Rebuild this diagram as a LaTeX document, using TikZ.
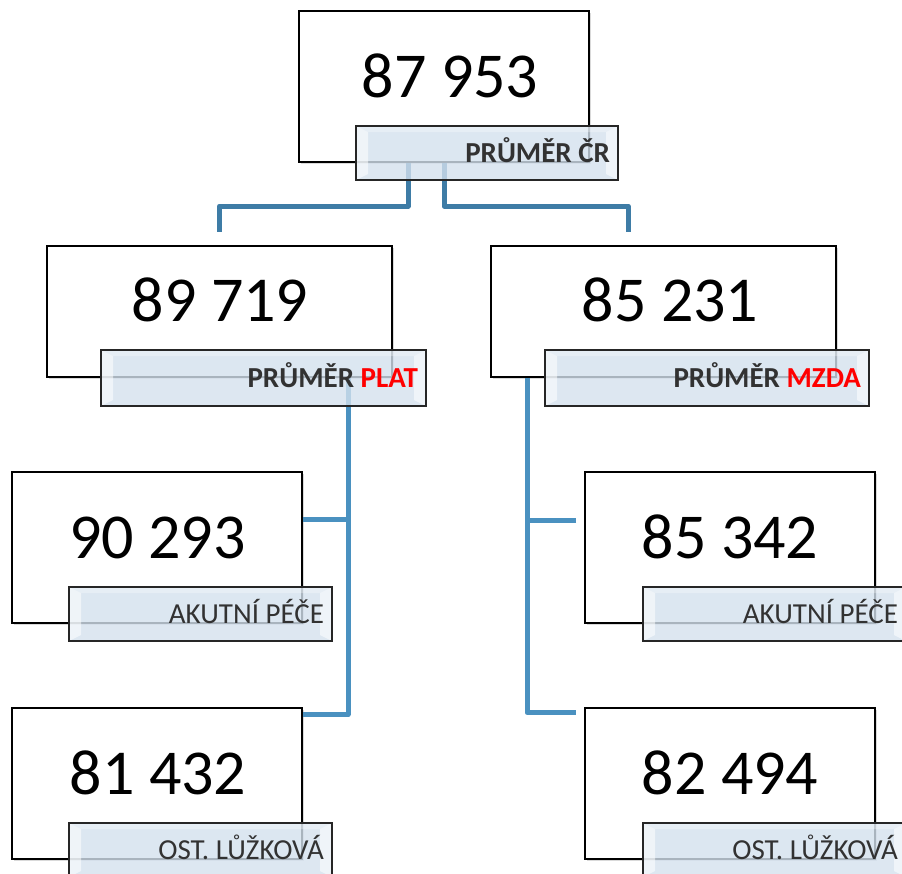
\documentclass[tikz,border=0pt]{standalone}
\usepackage{fontspec}
\setmainfont{Carlito}
\usetikzlibrary{shadows}
\definecolor{tagfill}{RGB}{212,225,238}
\definecolor{linktop}{RGB}{62,124,166}
\definecolor{linklow}{RGB}{74,145,192}
\definecolor{tagtext}{RGB}{50,50,50}
\tikzset{
  valbox/.style={draw=black, line width=2pt, fill=white, minimum width=290pt, minimum height=151pt,
                 drop shadow={shadow xshift=2pt, shadow yshift=-2pt, opacity=0.3}},
  numtxt/.style={inner sep=0pt, text height=40pt, text depth=0pt, font=\fontsize{64}{66}\selectfont},
  tagbox/.style={draw=black!85, line width=1.6pt, fill=tagfill, fill opacity=0.8, text opacity=1,
                 minimum height=54pt, inner xsep=8pt, align=flush right, text=tagtext,
                 text height=19pt, text depth=0pt, font=\fontsize{29}{31}\selectfont,
                 path picture={
                   \fill[white, opacity=0.55] (path picture bounding box.north west) -- ++(12pt,-6pt)
                     -- ([xshift=12pt,yshift=6pt]path picture bounding box.south west)
                     -- (path picture bounding box.south west) -- cycle;
                   \fill[white, opacity=0.55] (path picture bounding box.north east) -- ++(-12pt,-6pt)
                     -- ([xshift=-12pt,yshift=6pt]path picture bounding box.south east)
                     -- (path picture bounding box.south east) -- cycle;
                   \fill[white, opacity=0.3] (path picture bounding box.north west) -- ++(12pt,-6pt)
                     -- ([xshift=-12pt,yshift=-6pt]path picture bounding box.north east)
                     -- (path picture bounding box.north east) -- cycle;
                 }},
  conntop/.style={draw=linktop, line width=5pt, line join=round},
  connlow/.style={draw=linklow, line width=5pt, line join=round}
}
\begin{document}
\begin{tikzpicture}[x=1pt, y=-1pt]
  \useasboundingbox (0,0) rectangle (902,873);
  \clip (0,0) rectangle (902,873);
  % boxes
  \node[valbox] (top) at (444,86.5) {};
  \node[valbox, minimum width=345pt, minimum height=131pt] (pl) at (219.5,311.5) {};
  \node[valbox, minimum width=345pt, minimum height=131pt] (pr) at (663.5,311.5) {};
  \node[valbox] (ll1) at (157,547.5) {};
  \node[valbox] (ll2) at (157,783) {};
  \node[valbox] (rr1) at (730,547.5) {};
  \node[valbox] (rr2) at (730,783) {};
  % numbers
  \node[numtxt] (ntop) at (450,77) {87 953};
  \node[numtxt] (npl) at (220,301) {89 719};
  \node[numtxt] (npr) at (670,301) {85 231};
  \node[numtxt] (nll1) at (157.5,538) {90 293};
  \node[numtxt] (nll2) at (158,774) {81 432};
  \node[numtxt] (nrr1) at (730,538) {85 342};
  \node[numtxt] (nrr2) at (730,774) {82 494};
  % links
  \draw[conntop] ([xshift=-36pt]top.south) -- ++(0,43) -| ([yshift=13pt]pl.north);
  \draw[conntop] (top.south) -- ++(0,43) -| ([xshift=-35.5pt,yshift=13pt]pr.north);
  \coordinate (lbus) at ([xshift=128.5pt]pl.south);
  \coordinate (lb1) at ([yshift=-48pt]ll1.north east);
  \draw[connlow] (lbus) |- ([yshift=-8pt]ll2.north east);
  \draw[connlow] (lb1) -- (lb1 -| lbus);
  \coordinate (rbus) at ([xshift=-136.5pt]pr.south);
  \coordinate (rb1) at ([xshift=-8pt,yshift=-49pt]rr1.north west);
  \draw[connlow] (rbus) |- ([xshift=-8pt,yshift=-6pt]rr2.north west);
  \draw[connlow] (rb1) -- (rb1 -| rbus);
  % tags
  \node[tagbox, text width=246pt, font=\fontsize{29}{31}\selectfont\bfseries] (ttop) at (487,153) {PRŮMĚR ČR};
  \node[tagbox, text width=309pt, minimum height=56pt, font=\fontsize{29}{31}\selectfont\bfseries] (tpl) at (263.5,378) {PRŮMĚR \textcolor{red}{PLAT}};
  \node[tagbox, text width=308pt, minimum height=56pt, font=\fontsize{29}{31}\selectfont\bfseries] (tpr) at (707,378) {PRŮMĚR \textcolor{red}{MZDA}};
  \node[tagbox, text width=247pt] (tll1) at (200.5,614) {AKUTNÍ PÉČE};
  \node[tagbox, text width=247pt] (tll2) at (200.5,850) {OST. LŮŽKOVÁ};
  \node[tagbox, text width=247pt] (trr1) at (774.5,614) {AKUTNÍ PÉČE};
  \node[tagbox, text width=247pt] (trr2) at (774.5,850) {OST. LŮŽKOVÁ};
\end{tikzpicture}
\end{document}
